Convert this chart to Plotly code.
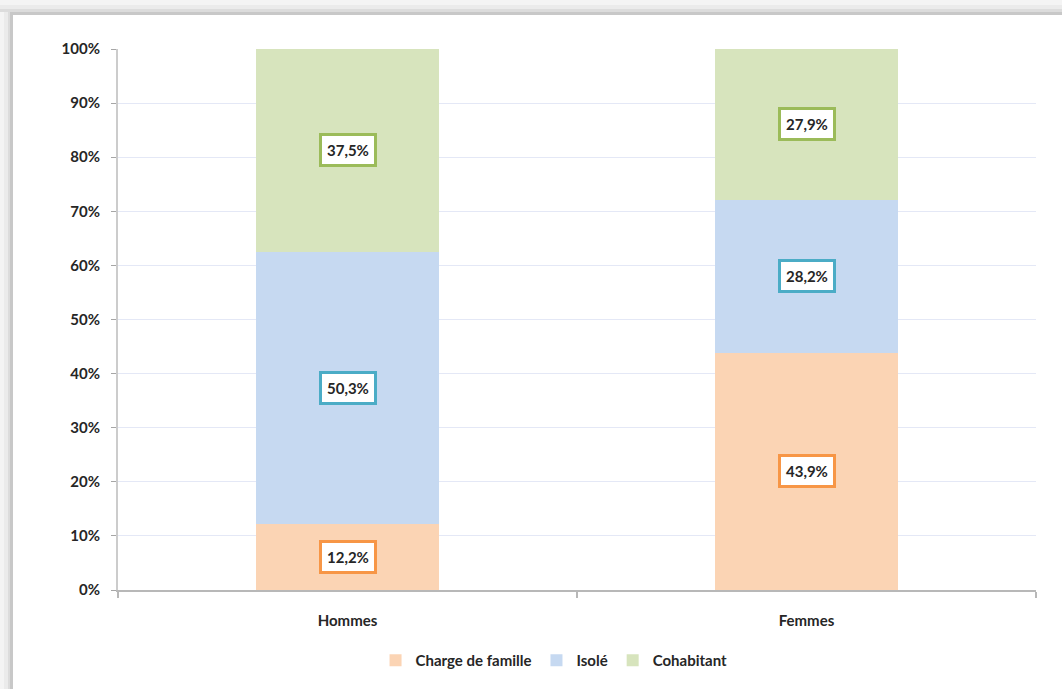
import plotly.graph_objects as go

categories = ["Hommes", "Femmes"]
series_names = ["Charge de famille", "Isolé", "Cohabitant"]
charge = [12.2, 43.9]
isole = [50.3, 28.2]
cohab = [37.5, 27.9]
tick_vals = [0, 10, 20, 30, 40, 50, 60, 70, 80, 90, 100]
tick_text = [f"{v}%" for v in tick_vals]

fills = ["#fbd4b4", "#c6d9f1", "#d7e4bd"]
borders = ["#f79646", "#4bacc6", "#9bbb59"]

W, H = 1062, 689
ml, mr, mt, mb = 118, 26, 49, 99
FONT = "Lato, Liberation Sans Narrow, sans-serif"

fig = go.Figure()
series = [charge, isole, cohab]
for name, vals, col in zip(series_names, series, fills):
    fig.add_trace(go.Bar(x=categories, y=vals, name=f"<b>{name}</b>",
                         marker=dict(color=col, line=dict(width=0)), width=0.4))

annotations = []
for i, cat in enumerate(categories):
    base = 0
    for s, vals in enumerate(series):
        v = vals[i]
        mid = base + v / 2
        annotations.append(dict(x=cat, y=mid, xref="x", yref="y", showarrow=False,
                                text=f"<b>{str(v).replace('.', ',')}%</b>",
                                font=dict(family=FONT, size=15, color="#262626"),
                                bgcolor="white", bordercolor=borders[s], borderwidth=3, borderpad=5))
        base += v

# frame shadow (pixel -> paper conversion)
pw, ph = W - ml - mr, H - mt - mb
def px(q):
    return (q - ml) / pw
def py(p):
    return (H - mb - p) / ph

shapes = []
top_cols = [("#f4f4f4", 0, 5), ("#ebebeb", 5, 9), ("#dcdcdc", 9, 12), ("#c8c8c8", 12, 15)]
for c, a, b in top_cols:
    shapes.append(dict(type="rect", xref="paper", yref="paper", x0=px(0), x1=px(W), y0=py(b), y1=py(a),
                       fillcolor=c, line=dict(width=0), layer="below"))
left_cols = [("#f4f4f4", 0, 4), ("#ebebeb", 4, 8), ("#dcdcdc", 8, 10), ("#c8c8c8", 10, 13)]
for c, a, b in left_cols:
    shapes.append(dict(type="rect", xref="paper", yref="paper", x0=px(a), x1=px(b), y0=py(H), y1=py(12),
                       fillcolor=c, line=dict(width=0), layer="below"))

fig.update_layout(
    barmode="stack",
    width=W, height=H,
    margin=dict(l=ml, r=mr, t=mt, b=mb),
    paper_bgcolor="white", plot_bgcolor="white",
    font=dict(family=FONT, size=14, color="#262626"),
    annotations=annotations,
    shapes=shapes,
    legend=dict(orientation="h", x=0.475, xanchor="center", y=-0.1, yanchor="top",
                font=dict(family=FONT, size=15, color="#262626"), traceorder="normal",
                itemwidth=30, tracegroupgap=0),
    xaxis=dict(showgrid=False, showline=True, linecolor="#b8b8b8", linewidth=2,
               ticks="outside", tickson="boundaries", ticklen=6, tickcolor="#b8b8b8", tickwidth=2,
               ticklabelstandoff=16,
               tickfont=dict(family=FONT, size=15, color="#262626"),
               tickprefix="<b>", ticksuffix="</b>"),
    yaxis=dict(range=[0, 100], tickvals=tick_vals, ticktext=[f"<b>{t}</b>" for t in tick_text],
               showgrid=True, gridcolor="#e4e8f6", gridwidth=1,
               showline=True, linecolor="#cccccc", linewidth=2,
               ticks="outside", ticklen=5, tickcolor="#a6a6a6",
               ticklabelstandoff=8,
               tickfont=dict(family=FONT, size=15, color="#262626"),
               zeroline=False),
)

fig.write_html("out.html", config={"displayModeBar": False},
               post_script="document.body.style.margin='0';document.body.style.overflow='hidden';")
